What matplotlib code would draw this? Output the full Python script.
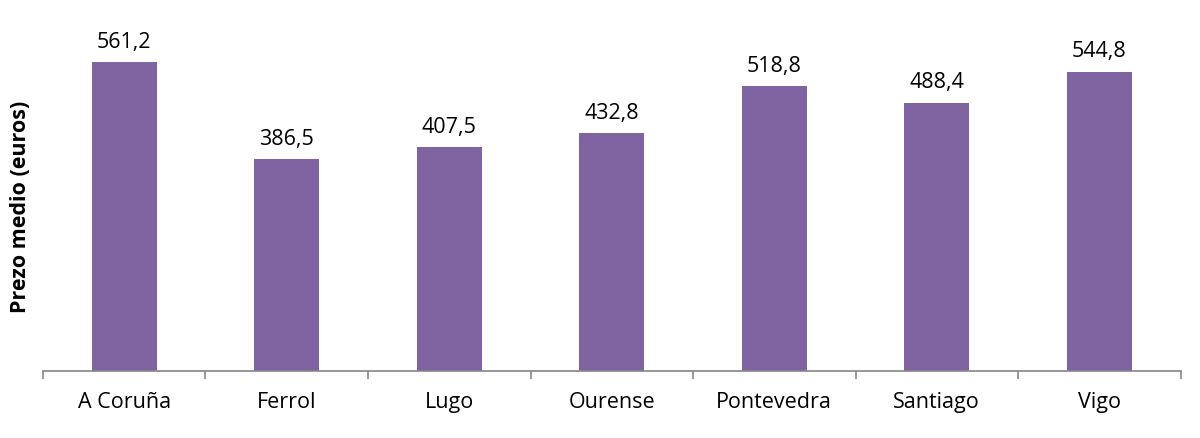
import numpy as np
from matplotlib import pyplot as plt

cities = ["A Coruña", "Ferrol", "Lugo", "Ourense", "Pontevedra", "Santiago", "Vigo"]
prices = [561.2, 386.5, 407.5, 432.8, 518.8, 488.4, 544.8]

plt.rcParams['font.family'] = ['Open Sans', 'DejaVu Sans']

fig = plt.figure(figsize=(12, 4.38), dpi=100)
ax = fig.add_axes([0.0358, 0.153, 0.948, 0.753])

x = np.arange(len(cities))
bars = ax.bar(x, prices, width=0.4, color="#8064A2")

# value labels with comma decimals
for xi, v in zip(x, prices):
    ax.annotate(f"{v:.1f}".replace(".", ","), (xi, v), xytext=(0, 6.5),
                textcoords="offset points", ha="center", va="bottom", fontsize=15.5)

ax.set_xlim(-0.5, len(cities) - 0.5)
ax.set_ylim(0, 600)

for side in ["top", "right", "left"]:
    ax.spines[side].set_visible(False)
ax.spines["bottom"].set_color("#868686")
ax.spines["bottom"].set_linewidth(1.2)

ax.set_yticks([])
ax.set_xticks(x)
ax.set_xticklabels(cities, fontsize=15.5)
ax.tick_params(axis="x", which="major", length=0, pad=15)
ax.set_xticks(np.arange(-0.5, len(cities), 1.0), minor=True)
ax.tick_params(axis="x", which="minor", length=6, width=1.2, color="#868686")

fig.text(0.017, 0.527, "Prezo medio (euros)", rotation=90, ha="center", va="center",
         fontsize=15.5, fontweight="bold")

fig.savefig("out.png", dpi=100)
